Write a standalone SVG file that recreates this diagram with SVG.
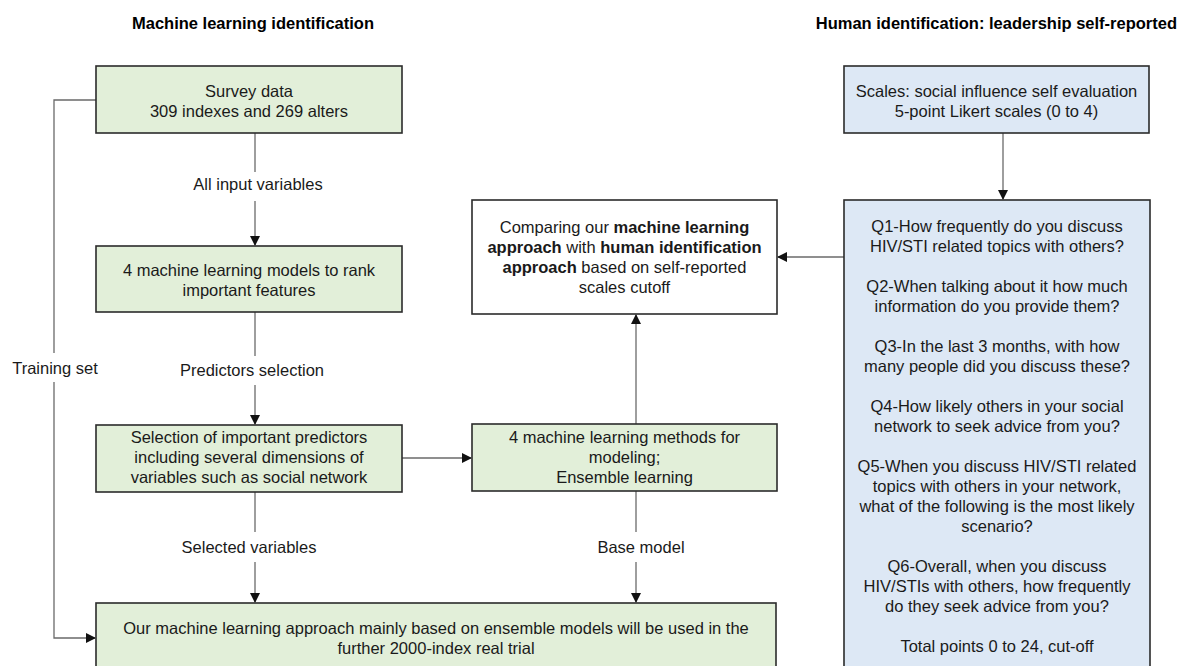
<svg xmlns="http://www.w3.org/2000/svg" width="1179" height="666" viewBox="0 0 1179 666">
<defs>
<marker id="ah" viewBox="0 0 10 10" refX="9" refY="5" markerWidth="10" markerHeight="10" markerUnits="userSpaceOnUse" orient="auto">
<path d="M0,0 L10,5 L0,10 Z" fill="#111"/>
</marker>
<style>
text{font-family:"Liberation Sans",Arial,sans-serif;font-size:16.5px;fill:#1a1a1a;text-anchor:middle}
.h{font-weight:bold;fill:#000}
.b{font-weight:bold}
.g{fill:#e2efd9;stroke:#2b2b2b;stroke-width:1.6}
.bl{fill:#dde8f5;stroke:#2b2b2b;stroke-width:1.6}
.w{fill:#fff;stroke:#2b2b2b;stroke-width:1.6}
.c{fill:none;stroke:#6a6a6a;stroke-width:1.3}
.lbl{fill:#1a1a1a}
</style>
</defs>
<rect width="1179" height="666" fill="#fff"/>
<text class="h" x="253" y="29">Machine learning identification</text>
<text class="h" x="1177" y="29" style="text-anchor:end">Human identification: leadership self-reported</text>

<g id="connectors">
<path class="c" d="M255,133 V172"/>
<path class="c" d="M255,201 V245" marker-end="url(#ah)"/>
<path class="c" d="M255,312 V356"/>
<path class="c" d="M255,385 V424" marker-end="url(#ah)"/>
<path class="c" d="M255,492 V532"/>
<path class="c" d="M255,562 V602" marker-end="url(#ah)"/>
<path class="c" d="M402,458 H471" marker-end="url(#ah)"/>
<path class="c" d="M636,424 V315" marker-end="url(#ah)"/>
<path class="c" d="M636,491 V532"/>
<path class="c" d="M636,562 V602" marker-end="url(#ah)"/>
<path class="c" d="M96,100 H54 V353"/>
<path class="c" d="M54,382 V638 H95" marker-end="url(#ah)"/>
<path class="c" d="M1003,133 V199" marker-end="url(#ah)"/>
<path class="c" d="M844,257 H778" marker-end="url(#ah)"/>
<text class="lbl" x="258" y="190">All input variables</text>
<text class="lbl" x="252" y="376">Predictors selection</text>
<text class="lbl" x="249" y="553">Selected variables</text>
<text class="lbl" x="641" y="553">Base model</text>
<text class="lbl" x="55" y="374">Training set</text>
</g>

<g id="survey">
<rect class="g" x="96" y="66" width="306" height="67"/>
<text x="249" y="97">Survey data</text>
<text x="249" y="117">309 indexes and 269 alters</text>
</g>

<g id="models">
<rect class="g" x="96" y="246" width="306" height="66"/>
<text x="249" y="276">4 machine learning models to rank</text>
<text x="249" y="296">important features</text>
</g>

<g id="selection">
<rect class="g" x="96" y="425" width="306" height="67"/>
<text x="249" y="443">Selection of important predictors</text>
<text x="249" y="463">including several dimensions of</text>
<text x="249" y="483">variables such as social network</text>
</g>

<g id="methods">
<rect class="g" x="472" y="424" width="305" height="67"/>
<text x="624.5" y="443">4 machine learning methods for</text>
<text x="624.5" y="463">modeling;</text>
<text x="624.5" y="483">Ensemble learning</text>
</g>

<g id="final">
<rect class="g" x="96" y="603" width="680" height="90"/>
<text x="436" y="634">Our machine learning approach mainly based on ensemble models will be used in the</text>
<text x="436" y="654">further 2000-index real trial</text>
</g>

<g id="comparing">
<rect class="w" x="472" y="200" width="305" height="114"/>
<text x="624.5" y="233">Comparing our <tspan class="b">machine learning</tspan></text>
<text x="624.5" y="253"><tspan class="b">approach</tspan> with <tspan class="b">human identification</tspan></text>
<text x="624.5" y="273"><tspan class="b">approach</tspan> based on self-reported</text>
<text x="624.5" y="293">scales cutoff</text>
</g>

<g id="scales">
<rect class="bl" x="844" y="66" width="305" height="67"/>
<text x="996.5" y="97">Scales: social influence self evaluation</text>
<text x="996.5" y="117">5-point Likert scales (0 to 4)</text>
</g>

<g id="questions">
<rect class="bl" x="844" y="200" width="306" height="490"/>
<text x="997" y="232">Q1-How frequently do you discuss</text>
<text x="997" y="252">HIV/STI related topics with others?</text>
<text x="997" y="292">Q2-When talking about it how much</text>
<text x="997" y="312">information do you provide them?</text>
<text x="997" y="352">Q3-In the last 3 months, with how</text>
<text x="997" y="372">many people did you discuss these?</text>
<text x="997" y="412">Q4-How likely others in your social</text>
<text x="997" y="432">network to seek advice from you?</text>
<text x="997" y="472">Q5-When you discuss HIV/STI related</text>
<text x="997" y="492">topics with others in your network,</text>
<text x="997" y="512">what of the following is the most likely</text>
<text x="997" y="532">scenario?</text>
<text x="997" y="572">Q6-Overall, when you discuss</text>
<text x="997" y="592">HIV/STIs with others, how frequently</text>
<text x="997" y="612">do they seek advice from you?</text>
<text x="997" y="652">Total points 0 to 24, cut-off</text>
</g>
</svg>
